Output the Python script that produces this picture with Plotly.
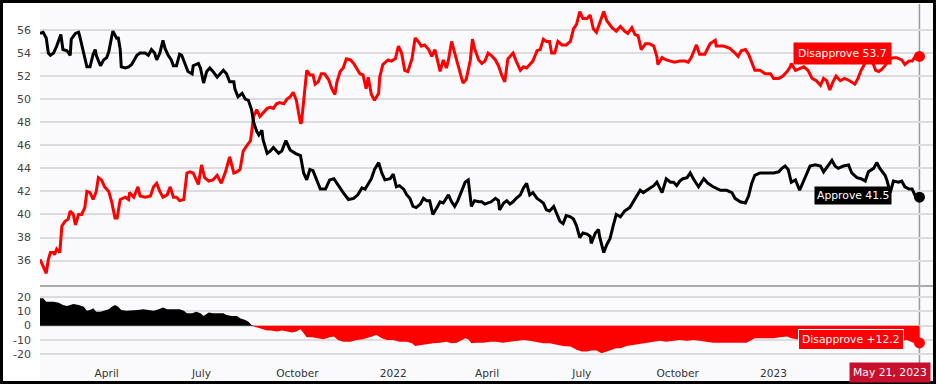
import numpy as np
import pandas as pd
import plotly.graph_objects as go

# ---------------- data (days since 2021-01-27) ----------------
START = "2021-01-27"
END_DATE = "2023-05-21"

approve_day = [
    0, 3, 6, 8, 10, 13, 16, 20, 22, 26,
    29, 30, 34, 37, 38, 42, 45, 48, 51, 53,
    54, 58, 61, 64, 66, 69, 70, 74, 75, 77,
    78, 82, 85, 88, 90, 93, 96, 101, 104, 107,
    110, 112, 115, 118, 120, 123, 126, 128, 131, 134,
    136, 139, 142, 146, 147, 152, 154, 157, 160, 163,
    166, 170, 173, 176, 179, 182, 186, 187, 190, 194,
    197, 200, 203, 205, 208, 210, 213, 214, 218, 221,
    224, 229, 232, 236, 240, 245, 250, 253, 256, 259,
    262, 266, 269, 274, 278, 282, 285, 288, 291, 296,
    301, 305, 309, 312, 315, 318, 321, 325, 328, 331,
    336, 339, 342, 345, 349, 352, 355, 358, 361, 365,
    368, 371, 374, 377, 381, 384, 387, 392, 395, 398,
    401, 405, 408, 411, 414, 417, 421, 424, 427, 430,
    433, 437, 440, 441, 445, 448, 451, 454, 457, 461,
    464, 467, 470, 473, 477, 480, 483, 486, 489, 493,
    496, 499, 502, 505, 509, 512, 515, 518, 521, 525,
    528, 529, 533, 536, 537, 541, 544, 547, 550, 553,
    557, 561, 566, 571, 576, 579, 584, 589, 592, 597,
    601, 605, 608, 611, 614, 617, 621, 624, 627, 632,
    637, 641, 646, 653, 659, 664, 667, 672, 677, 680,
    683, 686, 691, 697, 704, 709, 712, 715, 718, 721,
    725, 729, 733, 736, 739, 744, 749, 752, 757, 760,
    763, 766, 771, 776, 779, 784, 788, 792, 795, 800,
    803, 806, 811, 813, 816, 819, 824, 827, 830, 834,
    837, 840, 844,
]
approve_val = [
    55.7, 55.8, 55.3, 54.0, 53.8, 54.0, 54.6, 55.6, 54.3, 54.2,
    53.8, 55.2, 55.7, 55.8, 55.5, 53.8, 52.8, 52.8, 53.9, 54.3,
    53.8, 52.9, 53.4, 53.6, 54.1, 55.5, 55.9, 55.2, 55.4, 54.3,
    52.8, 52.7, 52.8, 53.0, 53.3, 53.8, 54.0, 54.0, 53.8, 54.3,
    54.0, 53.4, 54.0, 55.1, 54.4, 53.8, 53.4, 52.9, 52.9, 53.9,
    53.8, 53.1, 52.4, 52.2, 52.9, 53.1, 52.7, 51.4, 52.4, 52.7,
    52.4, 51.9, 52.2, 52.5, 52.2, 51.5, 51.5, 50.9, 50.2, 50.5,
    50.0, 49.9, 49.1, 48.0, 47.2, 46.9, 47.3, 46.5, 45.3, 45.5,
    45.8, 45.3, 45.5, 46.4, 45.6, 45.3, 45.1, 43.6, 43.0, 43.9,
    43.8, 42.8, 42.2, 42.2, 43.0, 43.1, 42.7, 42.2, 41.9, 41.3,
    41.4, 41.7, 42.3, 42.2, 42.7, 43.1, 43.9, 44.5, 43.6, 43.0,
    43.1, 43.5, 42.4, 42.5, 42.2, 41.7, 41.4, 40.7, 40.6, 40.9,
    41.4, 41.2, 41.2, 40.0, 40.6, 41.1, 41.0, 41.7, 41.1, 40.7,
    41.2, 42.1, 42.8, 43.0, 40.7, 41.2, 41.1, 41.1, 40.9, 41.0,
    41.1, 41.4, 41.2, 40.4, 41.0, 41.2, 40.9, 41.1, 41.4, 41.7,
    42.3, 42.7, 41.7, 41.9, 41.4, 41.2, 41.0, 40.4, 40.3, 40.7,
    40.1, 39.4, 39.2, 39.9, 39.8, 39.6, 39.0, 38.0, 38.4, 38.3,
    38.1, 37.5, 38.4, 38.7, 38.1, 36.7, 37.4, 37.9, 39.0, 40.0,
    39.8, 40.3, 40.6, 41.3, 42.1, 41.9, 42.2, 42.5, 42.8, 41.9,
    43.1, 42.8, 42.8, 42.5, 42.9, 43.1, 43.2, 43.6, 43.1, 42.4,
    43.1, 42.7, 42.4, 42.1, 42.1, 41.9, 41.4, 41.1, 41.0, 41.6,
    42.7, 43.4, 43.6, 43.6, 43.6, 43.7, 44.0, 44.2, 43.9, 42.8,
    43.0, 42.1, 43.0, 43.7, 44.2, 44.3, 44.2, 43.7, 44.3, 44.7,
    44.2, 44.0, 44.2, 44.3, 43.6, 43.2, 43.1, 42.9, 43.7, 44.0,
    44.5, 44.0, 43.4, 42.9, 41.9, 42.9, 42.8, 42.9, 42.4, 42.2,
    42.2, 41.6, 41.5,
]

disapprove_day = [
    0, 2, 3, 5, 6, 8, 10, 13, 14, 16,
    19, 21, 24, 27, 29, 32, 34, 37, 40, 43,
    45, 48, 51, 54, 56, 59, 62, 66, 69, 72,
    74, 77, 82, 85, 86, 90, 93, 94, 96, 101,
    106, 109, 112, 115, 118, 122, 125, 128, 131, 134,
    138, 141, 144, 147, 150, 152, 155, 158, 162, 166,
    170, 174, 178, 181, 182, 186, 189, 192, 195, 198,
    202, 205, 208, 211, 214, 218, 221, 224, 227, 230,
    234, 237, 240, 243, 246, 248, 250, 251, 253, 254,
    256, 259, 262, 264, 267, 270, 273, 277, 280, 283,
    285, 288, 291, 294, 298, 301, 304, 307, 310, 313,
    315, 318, 321, 325, 326, 329, 334, 337, 341, 344,
    347, 350, 353, 357, 360, 363, 366, 369, 373, 376,
    379, 384, 387, 390, 392, 395, 398, 401, 405, 406,
    409, 413, 415, 417, 421, 424, 427, 430, 433, 437,
    440, 443, 446, 449, 454, 457, 461, 464, 467, 470,
    473, 477, 480, 483, 486, 489, 491, 494, 497, 501,
    505, 509, 512, 515, 518, 521, 525, 528, 531, 534,
    537, 541, 544, 549, 553, 557, 561, 564, 568, 571,
    574, 577, 581, 585, 589, 592, 593, 597, 601, 606,
    609, 614, 619, 622, 625, 630, 633, 638, 643, 648,
    649, 656, 662, 667, 670, 673, 677, 680, 683, 686,
    691, 696, 701, 704, 709, 713, 717, 720, 721, 725,
    728, 733, 737, 741, 745, 749, 752, 755, 758, 761,
    764, 768, 772, 777, 782, 785, 788, 790, 793, 796,
    799, 802, 805, 808, 811, 814, 816, 819, 822, 827,
    830, 834, 837, 840, 844,
]
disapprove_val = [
    36.1, 35.7, 35.6, 35.1, 34.9, 36.1, 36.7, 36.7, 36.5, 37.0,
    36.7, 39.0, 39.4, 39.6, 40.3, 40.0, 39.1, 40.0, 40.0, 40.6,
    42.0, 41.9, 41.3, 42.0, 43.2, 43.0, 42.4, 42.0, 41.0, 39.7,
    39.7, 41.3, 41.5, 41.3, 41.9, 41.5, 42.3, 42.4, 41.6, 41.5,
    41.6, 42.4, 42.7, 42.0, 41.5, 41.7, 42.4, 41.5, 41.5, 41.2,
    41.3, 43.6, 43.7, 43.6, 43.0, 42.6, 44.3, 43.2, 42.9, 43.0,
    43.4, 42.7, 43.7, 44.7, 45.0, 43.6, 43.7, 43.9, 45.5, 45.9,
    46.4, 48.5, 49.1, 48.5, 48.8, 49.2, 49.3, 49.2, 49.6, 49.7,
    49.6, 50.0, 50.2, 50.6, 49.9, 48.8, 47.9, 48.0, 49.9, 50.9,
    52.5, 52.1, 52.1, 51.3, 51.5, 52.2, 52.2, 51.7, 50.9, 50.4,
    51.5, 52.4, 52.7, 53.5, 53.4, 53.1, 52.7, 52.2, 52.1, 50.9,
    51.9, 50.4, 49.9, 50.5, 51.9, 53.0, 53.4, 53.3, 53.5, 54.6,
    54.0, 52.5, 52.4, 53.5, 55.3, 55.0, 54.6, 54.7, 54.3, 53.7,
    54.3, 52.4, 53.4, 52.7, 53.4, 55.0, 54.0, 52.9, 51.7, 51.4,
    51.7, 53.4, 55.2, 54.4, 53.4, 53.1, 53.3, 54.0, 53.8, 53.4,
    52.9, 52.1, 51.5, 53.5, 54.0, 53.3, 52.5, 52.8, 52.7, 53.0,
    53.3, 54.2, 54.3, 55.2, 55.0, 55.0, 54.0, 54.0, 55.0, 54.7,
    54.7, 55.0, 56.1, 56.5, 57.6, 57.0, 57.0, 57.3, 56.1, 55.8,
    56.6, 57.6, 56.8, 56.2, 55.9, 56.3, 55.9, 55.7, 56.2, 55.6,
    55.5, 54.3, 54.8, 54.8, 54.6, 53.7, 53.0, 53.6, 53.4, 53.3,
    53.2, 53.3, 53.3, 53.2, 53.6, 54.7, 53.9, 53.9, 54.8, 55.1,
    54.6, 54.6, 54.4, 54.0, 53.7, 54.2, 54.3, 53.9, 53.2, 52.5,
    52.5, 52.2, 52.2, 51.8, 51.8, 52.0, 52.4, 52.8, 53.1, 52.5,
    52.6, 52.8, 52.5, 51.8, 51.6, 51.2, 51.8, 51.6, 50.8, 51.5,
    52.0, 51.6, 51.8, 51.6, 51.3, 51.8, 52.5, 52.8, 53.4, 53.5,
    53.2, 52.5, 52.4, 52.6, 52.9, 53.4, 53.5, 53.6, 53.6, 53.4,
    53.0, 53.3, 53.3, 53.7, 53.7,
]

spread_day = [
    0, 3, 6, 13, 18, 22, 26, 29, 32, 37,
    42, 45, 48, 51, 54, 58, 61, 66, 69, 72,
    75, 78, 83, 90, 94, 99, 104, 109, 114, 118,
    122, 126, 130, 134, 138, 141, 146, 150, 154, 157,
    162, 166, 171, 176, 179, 184, 189, 192, 197, 200,
    203, 206, 210, 214, 218, 222, 227, 232, 237, 242,
    246, 250, 253, 256, 261, 266, 272, 278, 282, 286,
    291, 298, 304, 310, 317, 323, 328, 333, 339, 345,
    352, 357, 360, 365, 371, 377, 384, 390, 395, 400,
    405, 408, 411, 414, 419, 425, 432, 438, 444, 451,
    457, 464, 470, 477, 483, 489, 496, 502, 509, 515,
    520, 525, 529, 534, 539, 544, 549, 553, 557, 563,
    569, 576, 582, 589, 595, 601, 608, 614, 621, 627,
    633, 640, 646, 653, 659, 665, 672, 678, 683, 686,
    691, 697, 704, 710, 717, 721, 728, 735, 745, 757,
    765, 775, 785, 795, 805, 815, 825, 832, 838, 844,
]
spread_val = [
    19.3, 19.3, 16.9, 16.9, 16.2, 14.6, 13.8, 14.6, 15.3, 14.6,
    13.4, 10.6, 11.0, 12.2, 9.9, 9.9, 10.6, 11.5, 13.4, 14.6,
    13.4, 11.0, 10.6, 10.6, 11.0, 11.5, 11.0, 10.6, 11.5, 12.9,
    11.5, 11.5, 11.0, 11.5, 10.6, 8.7, 8.7, 9.9, 8.7, 6.8,
    9.2, 8.7, 8.7, 8.7, 7.5, 6.8, 6.8, 5.2, 4.0, 2.8,
    0.5, -0.7, -1.4, -2.6, -3.5, -3.5, -4.2, -3.5, -4.2, -4.9,
    -4.2, -2.6, -5.4, -8.2, -8.2, -8.9, -9.6, -8.2, -7.7, -10.1,
    -11.3, -11.3, -10.1, -9.6, -8.2, -6.6, -8.9, -10.1, -10.1, -11.3,
    -11.3, -12.4, -14.3, -13.6, -12.9, -12.4, -12.0, -11.3, -12.4, -12.0,
    -10.1, -8.9, -9.6, -12.4, -12.0, -12.0, -11.3, -11.3, -12.0, -11.3,
    -10.6, -10.1, -10.6, -11.3, -12.4, -12.4, -13.6, -14.3, -14.8, -17.1,
    -18.3, -18.3, -17.6, -17.6, -19.5, -18.3, -16.7, -16.0, -16.0, -14.3,
    -13.6, -12.9, -12.0, -11.3, -10.6, -11.3, -10.6, -10.1, -10.6, -10.1,
    -10.6, -11.3, -12.0, -12.0, -12.0, -12.0, -12.0, -12.0, -10.1, -8.9,
    -8.9, -8.9, -8.9, -8.2, -7.7, -8.9, -10.0, -9.0, -8.0, -7.6,
    -8.0, -7.6, -8.6, -10.0, -9.0, -10.5, -10.8, -10.1, -12.0, -12.2,
]

x_tick_dates = ["2021-04-01", "2021-07-01", "2021-10-01", "2022-01-01",
                "2022-04-01", "2022-07-01", "2022-10-01", "2023-01-01"]
x_tick_text = ["April", "July", "October", "2022", "April", "July", "October", "2023"]
top_ticks = [36, 38, 40, 42, 44, 46, 48, 50, 52, 54, 56]
bottom_ticks = [20, 10, 0, -10, -20]
bottom_tick_text = ["20", "10", "0", "-10", "-20"]

# ---------------- build ----------------
start = pd.Timestamp(START)


def to_dates(days):
    return [start + pd.Timedelta(days=int(d)) for d in days]


ax = to_dates(approve_day)
dx = to_dates(disapprove_day)
sx = to_dates(spread_day)
sv = np.array(spread_val)

RED = "#ff0000"
BG = "#fafafd"
FONT = "DejaVu Sans"

fig = go.Figure()
fig.add_trace(go.Scatter(x=dx, y=disapprove_val, mode="lines", yaxis="y", xaxis="x",
                         line=dict(color=RED, width=3), hoverinfo="skip"))
fig.add_trace(go.Scatter(x=ax, y=approve_val, mode="lines", yaxis="y", xaxis="x",
                         line=dict(color="#000000", width=3), hoverinfo="skip"))
fig.add_trace(go.Scatter(x=sx, y=np.maximum(sv, 0), mode="lines", yaxis="y2", xaxis="x",
                         fill="tozeroy", fillcolor="#000000",
                         line=dict(color="#000000", width=0), hoverinfo="skip"))
fig.add_trace(go.Scatter(x=sx, y=np.minimum(sv, 0), mode="lines", yaxis="y2", xaxis="x",
                         fill="tozeroy", fillcolor=RED,
                         line=dict(color=RED, width=0), hoverinfo="skip"))
# end markers
fig.add_trace(go.Scatter(x=[dx[-1]], y=[disapprove_val[-1]], mode="markers", yaxis="y",
                         marker=dict(color=RED, size=11), hoverinfo="skip"))
fig.add_trace(go.Scatter(x=[ax[-1]], y=[approve_val[-1]], mode="markers", yaxis="y",
                         marker=dict(color="#000000", size=11), hoverinfo="skip"))
fig.add_trace(go.Scatter(x=[sx[-1]], y=[spread_val[-1]], mode="markers", yaxis="y2",
                         marker=dict(color=RED, size=11), hoverinfo="skip"))

W, H = 938, 385
ML, MR, MT, MB = 40, 5, 4, 20
pw, ph = W - ML - MR, H - MT - MB


def px_x(p):
    return (p - ML) / pw


def px_y(p):
    return (H - MB - p) / ph


split = px_y(286)
end_dt = pd.Timestamp(END_DATE)

fig.update_layout(
    width=W, height=H,
    margin=dict(l=ML, r=MR, t=MT, b=MB),
    paper_bgcolor="#ffffff", plot_bgcolor=BG,
    showlegend=False, hovermode=False,
    font=dict(family=FONT, size=10.6, color="#333333"),
    xaxis=dict(domain=[0, 1], anchor="y2", range=[start, pd.Timestamp("2023-06-03")],
               tickmode="array", tickvals=x_tick_dates, ticktext=x_tick_text,
               showgrid=False, zeroline=False, showline=False, ticks="",
               tickfont=dict(size=10.6, color="#333333")),
    yaxis=dict(domain=[split, 1], anchor="x", range=[33.8, 58.25],
               tickmode="array", tickvals=top_ticks,
               gridcolor="#dcdcdc", gridwidth=1.5, zeroline=False, showline=False,
               ticks="", ticklabelstandoff=8,
               tickfont=dict(size=11, color="#444444")),
    yaxis2=dict(domain=[0, split], anchor="x", range=[-27.8, 28],
                tickmode="array", tickvals=bottom_ticks, ticktext=bottom_tick_text,
                gridcolor="#dcdcdc", gridwidth=1.5, zeroline=False, showline=False,
                ticks="", ticklabelstandoff=8,
                tickfont=dict(size=11, color="#444444")),
)

shapes = [
    # background behind x tick labels
    dict(type="rect", xref="paper", yref="paper", x0=0, x1=1, y0=px_y(382), y1=0,
         fillcolor=BG, line=dict(width=0), layer="below"),
    # panel divider
    dict(type="line", xref="paper", yref="paper", x0=0, x1=1, y0=split, y1=split,
         line=dict(color="#aaaaaa", width=2), layer="above"),
    # crosshair
    dict(type="line", xref="x", yref="paper", x0=end_dt, x1=end_dt, y0=0, y1=1,
         line=dict(color="#999999", width=1.5), layer="between"),
    # outer frame
    dict(type="rect", xref="paper", yref="paper", x0=px_x(1.5), x1=px_x(934.5),
         y0=px_y(382.5), y1=px_y(1.5), line=dict(color="#000000", width=3),
         fillcolor="rgba(0,0,0,0)", layer="above"),
]
fig.update_layout(shapes=shapes)

ann_font = dict(family=FONT, size=10.8, color="#ffffff")
fig.update_layout(annotations=[
    dict(x=end_dt, y=disapprove_val[-1], xref="x", yref="y", xanchor="right", yanchor="middle",
         xshift=-27, yshift=2.6, text=f"Disapprove {disapprove_val[-1]}", showarrow=False,
         bgcolor=RED, borderpad=4, font=ann_font),
    dict(x=end_dt, y=approve_val[-1], xref="x", yref="y", xanchor="right", yanchor="middle",
         xshift=-27, yshift=1.5, text=f"Approve {approve_val[-1]}", showarrow=False,
         bgcolor="#000000", borderpad=2, font=ann_font),
    dict(x=end_dt, y=spread_val[-1], xref="x", yref="y2", xanchor="right", yanchor="middle",
         xshift=-15, yshift=3.7, text=f"Disapprove +{abs(spread_val[-1])}", showarrow=False,
         bgcolor=RED, bordercolor="#ffffff", borderwidth=1, borderpad=3, font=ann_font),
    dict(x=end_dt, y=px_y(372.2), xref="x", yref="paper", xanchor="center", yanchor="middle",
         xshift=-29.7, text="May 21, 2023", showarrow=False,
         bgcolor="#c8102e", borderpad=3, font=ann_font),
])

fig.write_html("out.html")
